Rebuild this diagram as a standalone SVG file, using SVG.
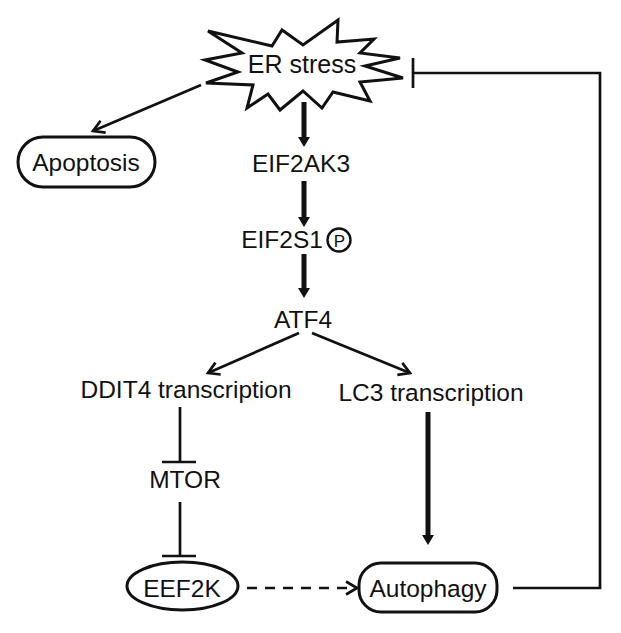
<svg xmlns="http://www.w3.org/2000/svg" width="621" height="633" viewBox="0 0 621 633">
<style>
text{font-family:"Liberation Sans",Arial,sans-serif;font-size:24.5px;fill:#111;text-anchor:middle}
.shape{fill:#fff;stroke:#111;stroke-width:3}
.thin{fill:none;stroke:#111;stroke-width:2.7}
.thick{fill:none;stroke:#111;stroke-width:5}
</style>
<defs>
<marker id="solid" viewBox="0 0 10 12" refX="1" refY="6" markerWidth="10" markerHeight="12" orient="auto" markerUnits="userSpaceOnUse">
<path d="M0,0 L10,6 L0,12 Z" fill="#111"/>
</marker>
<marker id="open" viewBox="0 0 16 16" refX="13" refY="8" markerWidth="16" markerHeight="16" orient="auto" markerUnits="userSpaceOnUse">
<path d="M2,1.5 L13,8 L2,14.5" fill="none" stroke="#111" stroke-width="2.7"/>
</marker>
</defs>
<g id="er-stress">
<polygon class="shape" points="208,31 272,46 282,30 303,45 338,20 337,42 374,39 360,53 400,58 365,66 403,78 360,82 370,101 333,92 322,108 303,91 280,110 268,94 247,108 253,85 206,83 238,72 205,60 242,53"/>
<text x="302" y="73" style="font-size:25px">ER stress</text>
</g>
<g id="apoptosis">
<rect class="shape" x="18" y="137" width="137" height="50" rx="25"/>
<text x="86" y="171">Apoptosis</text>
</g>
<g id="eif2ak3"><text x="301" y="172">EIF2AK3</text></g>
<g id="eif2s1">
<text x="282" y="248">EIF2S1</text>
<circle cx="339" cy="240" r="11.5" fill="#fff" stroke="#111" stroke-width="2.4"/>
<text x="339.5" y="246.5" style="font-size:17px">P</text>
</g>
<g id="atf4"><text x="303" y="328">ATF4</text></g>
<g id="ddit4"><text x="186" y="398">DDIT4 transcription</text></g>
<g id="lc3"><text x="431" y="401">LC3 transcription</text></g>
<g id="mtor"><text x="185" y="488">MTOR</text></g>
<g id="eef2k">
<ellipse class="shape" cx="182.5" cy="586" rx="55.5" ry="24"/>
<text x="182" y="597">EEF2K</text>
</g>
<g id="autophagy">
<rect class="shape" x="359" y="563" width="138" height="49" rx="22"/>
<text x="428" y="597">Autophagy</text>
</g>
<g id="connectors">
<line class="thin" x1="201" y1="85" x2="93" y2="131" marker-end="url(#open)"/>
<line class="thick" x1="304" y1="102" x2="304" y2="138" marker-end="url(#solid)"/>
<line class="thick" x1="304" y1="181" x2="304" y2="218" marker-end="url(#solid)"/>
<line class="thick" x1="304" y1="254" x2="304" y2="289" marker-end="url(#solid)"/>
<line class="thin" x1="299" y1="333" x2="208" y2="373" marker-end="url(#open)"/>
<line class="thin" x1="312" y1="333" x2="410" y2="373" marker-end="url(#open)"/>
<line class="thin" x1="180" y1="407" x2="180" y2="462"/>
<line class="thin" x1="162" y1="462" x2="196" y2="462"/>
<line class="thin" x1="180" y1="502" x2="180" y2="556"/>
<line class="thin" x1="162" y1="556" x2="196" y2="556"/>
<line class="thick" x1="428" y1="412" x2="428" y2="536" marker-end="url(#solid)"/>
<line class="thin" x1="247" y1="588" x2="357" y2="588" stroke-dasharray="10,8" marker-end="url(#open)"/>
<polyline class="thin" points="513,588 600,588 600,73 413,73"/>
<line class="thin" x1="413" y1="58" x2="413" y2="88"/>
</g>
</svg>
